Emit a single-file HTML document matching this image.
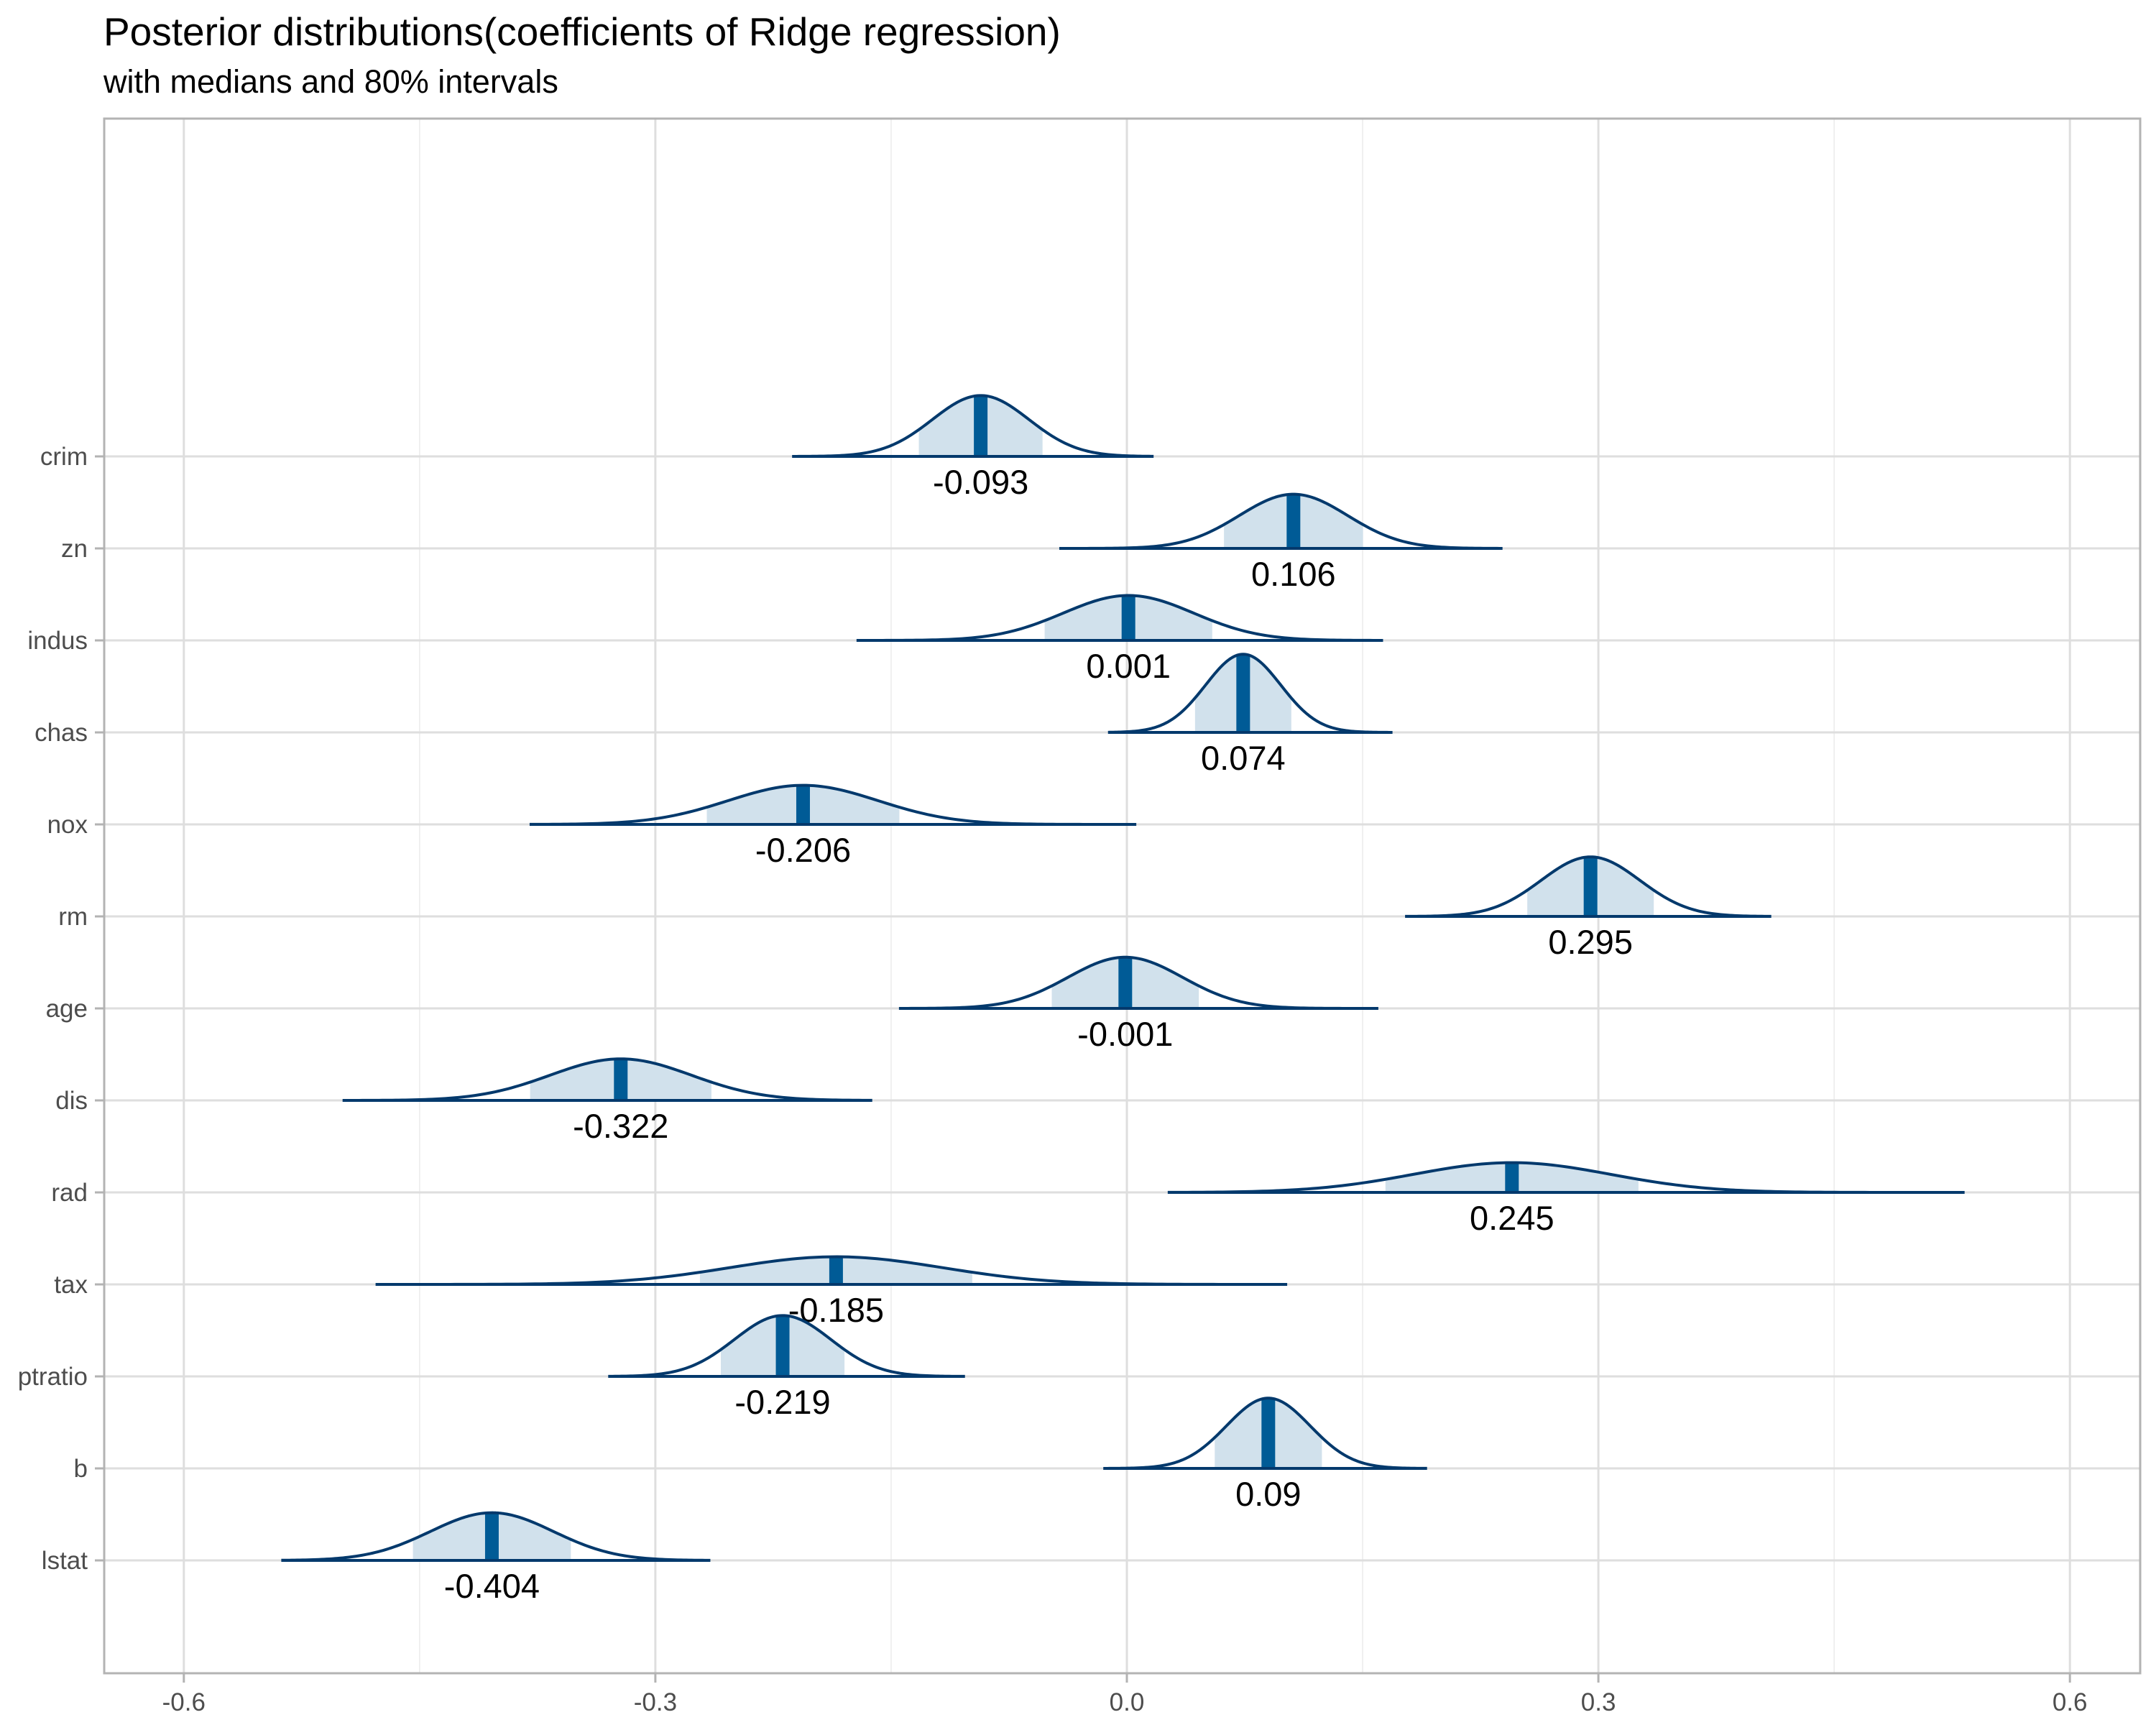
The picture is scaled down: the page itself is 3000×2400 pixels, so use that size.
<!DOCTYPE html>
<html><head><meta charset="utf-8"><style>
html,body{margin:0;padding:0;background:#fff}
svg{display:block;font-family:"Liberation Sans",Arial,sans-serif}
</style></head><body>
<svg id="chart" width="3000" height="2400" viewBox="0 0 3000 2400" xmlns="http://www.w3.org/2000/svg">
<text x="144" y="63" font-size="55" fill="#000">Posterior distributions(coefficients of Ridge regression)</text>
<text x="144" y="129" font-size="45" fill="#000">with medians and 80% intervals</text>
<g id="grid"></g>
<g id="marks"></g>
<rect x="145" y="165" width="2833" height="2163" fill="none" stroke="#b3b3b3" stroke-width="3"/>
<g id="axes"></g>
</svg>
<script>
const categories = ["crim","zn","indus","chas","nox","rm","age","dis","rad","tax","ptratio","b","lstat"];
const medians = [-0.093,0.106,0.001,0.074,-0.206,0.295,-0.001,-0.322,0.245,-0.185,-0.219,0.09,-0.404];
const sds = [0.0307,0.0345,0.0416,0.0239,0.0478,0.0314,0.0365,0.045,0.0628,0.0676,0.0307,0.0266,0.0392];
const mins = [-0.213,-0.043,-0.172,-0.012,-0.380,0.177,-0.145,-0.499,0.026,-0.478,-0.330,-0.015,-0.538];
const maxs = [0.017,0.239,0.163,0.169,0.006,0.410,0.160,-0.162,0.533,0.102,-0.103,0.191,-0.265];
const labels = ["-0.093","0.106","0.001","0.074","-0.206","0.295","-0.001","-0.322","0.245","-0.185","-0.219","0.09","-0.404"];
const xTicks = [-0.6,-0.3,0,0.3,0.6];
const xTickLabels = ["-0.6","-0.3","0.0","0.3","0.6"];
const xMinor = [-0.45,-0.15,0.15,0.45];

const NS="http://www.w3.org/2000/svg";
const X0=1568, XS=2187, Y0=635, YS=128.0, L=145, R=2978, T=165, B=2328, K=2.6;
const xs=v=>X0+v*XS;
const ys=i=>Y0+i*YS;
function mk(tag,attrs,parent){const e=document.createElementNS(NS,tag);for(const k in attrs)e.setAttribute(k,attrs[k]);parent.appendChild(e);return e;}
const grid=document.getElementById('grid'),marks=document.getElementById('marks'),axes=document.getElementById('axes');

xMinor.forEach(v=>{
  const l=mk('line',{x1:xs(v),x2:xs(v),y1:T,y2:B,stroke:'#ebebeb','stroke-width':1.5},grid);
  
  
});
xTicks.forEach((v,i)=>{
  const l=mk('line',{x1:xs(v),x2:xs(v),y1:T,y2:B,stroke:'#dedede','stroke-width':3},grid);
  
  
  const t=mk('line',{x1:xs(v),x2:xs(v),y1:B,y2:B+13,stroke:'#b3b3b3','stroke-width':3},axes);
  
  
  const tx=mk('text',{x:xs(v),y:B+52,'text-anchor':'middle','font-size':35,fill:'#4d4d4d'},axes);
  tx.textContent=xTickLabels[i];
  
  
});
categories.forEach((c,i)=>{
  const y=ys(i);
  const g=mk('line',{x1:L,x2:R,y1:y,y2:y,stroke:'#dedede','stroke-width':3},grid);
  
  
  const t=mk('line',{x1:L-13,x2:L,y1:y,y2:y,stroke:'#b3b3b3','stroke-width':3},axes);
  
  
  const tx=mk('text',{x:122,y:y+12,'text-anchor':'end','font-size':35,fill:'#4d4d4d'},axes);
  tx.textContent=c;
  
  

  const m=medians[i],s=sds[i],h=K/s;
  const dens=v=>h*Math.exp(-0.5*((v-m)/s)**2);
  const N=160;
  let pts=[];
  for(let j=0;j<=N;j++){const v=mins[i]+(maxs[i]-mins[i])*j/N;pts.push([xs(v),y-dens(v)]);}
  const lo=m-1.2816*s,hi=m+1.2816*s;
  let ipts=[];
  for(let j=0;j<=60;j++){const v=lo+(hi-lo)*j/60;ipts.push([xs(v),y-dens(v)]);}
  const grp=mk('g',{},marks);
  
  
  const shade=mk('path',{d:'M'+xs(lo)+','+y+' L'+ipts.map(p=>p.join(',')).join(' L')+' L'+xs(hi)+','+y+' Z',fill:'#d1e1ec'},grp);
  
  
  const bar=mk('rect',{x:xs(m)-9.5,y:y-dens(m),width:19,height:dens(m),fill:'#005b96'},grp);
  
  
  const line=mk('path',{d:'M'+pts.map(p=>p.join(',')).join(' L')+' M'+xs(mins[i])+','+y+' L'+xs(maxs[i])+','+y,fill:'none',stroke:'#03396c','stroke-width':4,'stroke-linejoin':'round'},grp);
  
  
  const lab=mk('text',{x:xs(m),y:y+52,'text-anchor':'middle','font-size':47,fill:'#000'},grp);
  lab.textContent=labels[i];
  
  
});
</script>
</body></html>
